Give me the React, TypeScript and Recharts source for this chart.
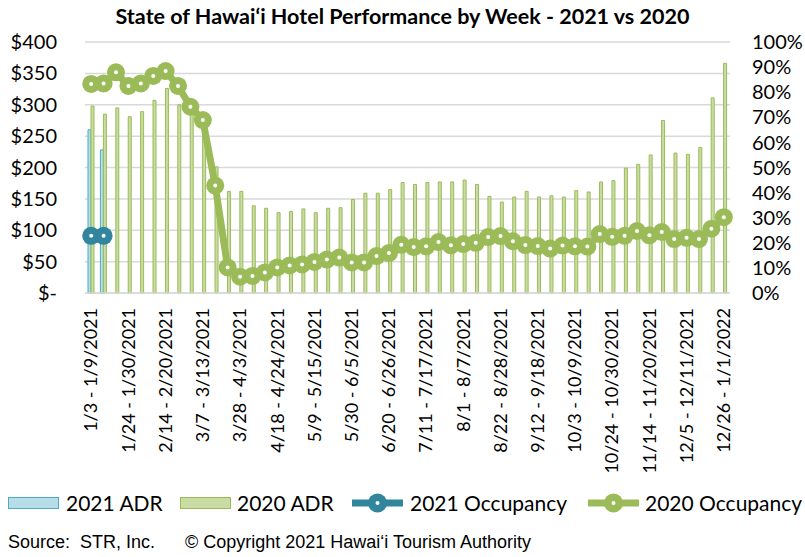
import { ComposedChart, Bar, Line, XAxis, YAxis, CartesianGrid } from "recharts";

const weeks = [
  "1/3 - 1/9/2021", "1/10 - 1/16/2021", "1/17 - 1/23/2021", "1/24 - 1/30/2021",
  "1/31 - 2/6/2021", "2/7 - 2/13/2021", "2/14 - 2/20/2021", "2/21 - 2/27/2021",
  "2/28 - 3/6/2021", "3/7 - 3/13/2021", "3/14 - 3/20/2021", "3/21 - 3/27/2021",
  "3/28 - 4/3/2021", "4/4 - 4/10/2021", "4/11 - 4/17/2021", "4/18 - 4/24/2021",
  "4/25 - 5/1/2021", "5/2 - 5/8/2021", "5/9 - 5/15/2021", "5/16 - 5/22/2021",
  "5/23 - 5/29/2021", "5/30 - 6/5/2021", "6/6 - 6/12/2021", "6/13 - 6/19/2021",
  "6/20 - 6/26/2021", "6/27 - 7/3/2021", "7/4 - 7/10/2021", "7/11 - 7/17/2021",
  "7/18 - 7/24/2021", "7/25 - 7/31/2021", "8/1 - 8/7/2021", "8/8 - 8/14/2021",
  "8/15 - 8/21/2021", "8/22 - 8/28/2021", "8/29 - 9/4/2021", "9/5 - 9/11/2021",
  "9/12 - 9/18/2021", "9/19 - 9/25/2021", "9/26 - 10/2/2021", "10/3 - 10/9/2021",
  "10/10 - 10/16/2021", "10/17 - 10/23/2021", "10/24 - 10/30/2021", "10/31 - 11/6/2021",
  "11/7 - 11/13/2021", "11/14 - 11/20/2021", "11/21 - 11/27/2021", "11/28 - 12/4/2021",
  "12/5 - 12/11/2021", "12/12 - 12/18/2021", "12/19 - 12/25/2021", "12/26 - 1/1/2022",
];

// ADR in $, occupancy in %
const adr2021 = [260, 228];
const occ2021 = [22.8, 22.8];

const adr2020 = [
  298, 285, 295, 281, 289, 307, 326, 300, 285, 277, 201, 162, 162, 139, 135, 128,
  130, 134, 128, 135, 136, 149, 159, 159, 165, 176, 173, 176, 177, 177, 180, 173,
  154, 145, 153, 162, 153, 155, 153, 163, 161, 177, 179, 199, 205, 220, 275, 223,
  221, 232, 311, 366,
];

const occ2020 = [
  83.3, 83.5, 87.9, 82.5, 83.5, 86.5, 88.4, 82.5, 74.2, 68.9, 42.8, 10.2, 6.5, 6.8,
  8.2, 10.2, 11.0, 11.4, 12.4, 13.3, 14.1, 12.2, 12.2, 14.7, 15.9, 19.2, 18.3, 18.6,
  20.3, 19.0, 19.5, 20.0, 22.3, 22.7, 20.6, 19.1, 18.7, 17.7, 18.9, 18.6, 18.5, 23.5,
  22.4, 22.8, 24.7, 23.0, 24.3, 21.5, 22.0, 21.5, 25.6, 30.2,
];

const adrTicks = [0, 50, 100, 150, 200, 250, 300, 350, 400];
const occTicks = [0, 10, 20, 30, 40, 50, 60, 70, 80, 90, 100];

const data = weeks.map((week, i) => ({
  week,
  adr2021: adr2021[i] ?? null,
  adr2020: adr2020[i],
  occ2021: occ2021[i] ?? null,
  occ2020: occ2020[i],
}));

const GREEN = "#9bbb59";
const TEAL = "#31859c";
const FONT = "Lato, sans-serif";

function dot(color: string) {
  return (p: any) => {
    if (p.cx == null || p.cy == null || p.value == null) return <g key={p.key ?? p.index} />;
    return (
      <g key={p.key ?? p.index}>
        <circle cx={p.cx} cy={p.cy} r={9} fill={color} />
        <circle cx={p.cx} cy={p.cy} r={2} fill="#fff" />
      </g>
    );
  };
}

function WeekTick({ x, y, payload }: any) {
  return (
    <text
      x={x}
      y={y + 15}
      transform={`rotate(-90, ${x}, ${y + 15})`}
      textAnchor="end"
      dy="0.35em"
      fontSize={18}
      fontFamily={FONT}
      fill="#000"
    >
      {payload.value}
    </text>
  );
}

function Swatch({ fill, stroke }: { fill: string; stroke: string }) {
  return (
    <div style={{ width: 51, height: 12, background: fill, border: `1px solid ${stroke}`, boxSizing: "border-box" }} />
  );
}

function LineIcon({ color }: { color: string }) {
  return (
    <svg width={51} height={22}>
      <line x1={0} y1={11} x2={51} y2={11} stroke={color} strokeWidth={7} />
      <circle cx={25.5} cy={11} r={9.5} fill={color} />
      <circle cx={25.5} cy={11} r={2} fill="#fff" />
    </svg>
  );
}

const legendText: React.CSSProperties = { fontFamily: FONT, fontSize: 21, color: "#000", lineHeight: "22px" };

export default function App() {
  return (
    <div style={{ position: "absolute", left: 0, top: 0, width: 805, height: 557, background: "#fff" }}>
      <div
        style={{
          position: "absolute", top: 3, left: 0, width: 805, textAlign: "center",
          fontFamily: FONT, fontWeight: 700, fontSize: 21.5, lineHeight: "26px", color: "#000",
        }}
      >
        State of Hawai‘i Hotel Performance by Week - 2021 vs 2020
      </div>
      <div style={{ position: "absolute", left: 0, top: 0 }}>
        <ComposedChart
          width={805}
          height={480}
          data={data}
          margin={{ top: 42, right: 0, bottom: 0, left: 0 }}
          barGap={0}
          barSize={3}
        >
          <CartesianGrid yAxisId="left" vertical={false} stroke="#d9d9d9" strokeWidth={1.5} />
          <XAxis
            dataKey="week"
            interval={2}
            height={187}
            tickLine={false}
            tickSize={0}
            tickMargin={0}
            axisLine={{ stroke: "#d9d9d9", strokeWidth: 1.5 }}
            tick={<WeekTick />}
          />
          <YAxis
            yAxisId="left"
            width={85}
            domain={[0, 400]}
            ticks={adrTicks}
            interval={0}
            axisLine={false}
            tickLine={false}
            tickSize={0}
            tickMargin={28}
            tickFormatter={(v: number) => (v === 0 ? "$-" : `$${v}`)}
            tick={{ fontSize: 20, fontFamily: FONT, fill: "#000" }}
          />
          <YAxis
            yAxisId="right"
            orientation="right"
            width={75}
            domain={[0, 100]}
            ticks={occTicks}
            interval={0}
            axisLine={false}
            tickLine={false}
            tickSize={0}
            tickMargin={22}
            tickFormatter={(v: number) => `${v}%`}
            tick={{ fontSize: 20, fontFamily: FONT, fill: "#000", textAnchor: "start" }}
          />
          <Bar yAxisId="left" dataKey="adr2021" fill="#b7dee8" stroke="#4bacc6" strokeWidth={1} isAnimationActive={false} />
          <Bar yAxisId="left" dataKey="adr2020" fill="#c9dca4" stroke={GREEN} strokeWidth={1} isAnimationActive={false} />
          <Line
            yAxisId="right"
            dataKey="occ2020"
            stroke={GREEN}
            strokeWidth={7}
            dot={dot(GREEN)}
            activeDot={false}
            isAnimationActive={false}
          />
          <Line
            yAxisId="right"
            dataKey="occ2021"
            stroke={TEAL}
            strokeWidth={7}
            dot={dot(TEAL)}
            activeDot={false}
            connectNulls={false}
            isAnimationActive={false}
          />
        </ComposedChart>
      </div>

      <div style={{ position: "absolute", left: 8, top: 497 }}><Swatch fill="#b7dee8" stroke="#4bacc6" /></div>
      <div style={{ position: "absolute", left: 66, top: 492, ...legendText }}>2021 ADR</div>
      <div style={{ position: "absolute", left: 180, top: 497 }}><Swatch fill="#c9dca4" stroke={GREEN} /></div>
      <div style={{ position: "absolute", left: 237, top: 492, ...legendText }}>2020 ADR</div>
      <div style={{ position: "absolute", left: 352, top: 492 }}><LineIcon color={TEAL} /></div>
      <div style={{ position: "absolute", left: 410, top: 492, ...legendText }}>2021 Occupancy</div>
      <div style={{ position: "absolute", left: 588, top: 492 }}><LineIcon color={GREEN} /></div>
      <div style={{ position: "absolute", left: 645, top: 492, ...legendText }}>2020 Occupancy</div>

      <div
        style={{
          position: "absolute", left: 8, top: 531, fontFamily: "'Liberation Sans', Arial, sans-serif",
          fontSize: 18, lineHeight: "22px", color: "#000", whiteSpace: "pre",
        }}
      >
        {"Source:  STR, Inc."}
      </div>
      <div
        style={{
          position: "absolute", left: 185, top: 531, fontFamily: "'Liberation Sans', Arial, sans-serif",
          fontSize: 18, lineHeight: "22px", color: "#000", whiteSpace: "pre",
        }}
      >
        © Copyright 2021 Hawai‘i Tourism Authority
      </div>
    </div>
  );
}
